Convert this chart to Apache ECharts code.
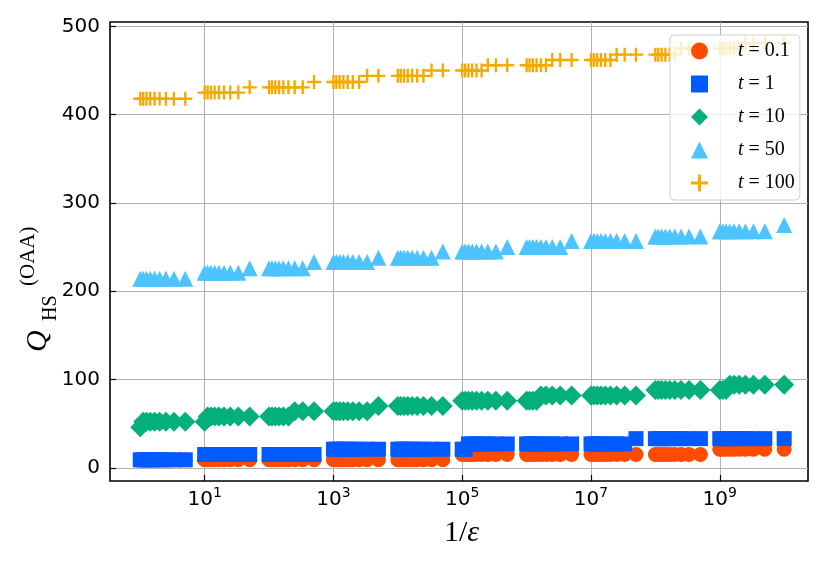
<!DOCTYPE html>
<html>
<head>
<meta charset="utf-8">
<script src="https://cdn.jsdelivr.net/npm/echarts@6/dist/echarts.min.js"></script>
<style>
  html, body { margin: 0; padding: 0; background: #fff; }
  #main { width: 830px; height: 563px; }
</style>
</head>
<body>
<div id="main"></div>
<script>
// epsilon values, 1/eps goes on the x axis (log)
var eps = [
  1, 0.9, 0.8, 0.7, 0.6, 0.5, 0.4, 0.3, 0.2,
  1e-1, 9e-2, 8e-2, 7e-2, 6e-2, 5e-2, 4e-2, 3e-2, 2e-2,
  1e-2, 9e-3, 8e-3, 7e-3, 6e-3, 5e-3, 4e-3, 3e-3, 2e-3,
  1e-3, 9e-4, 8e-4, 7e-4, 6e-4, 5e-4, 4e-4, 3e-4, 2e-4,
  1e-4, 9e-5, 8e-5, 7e-5, 6e-5, 5e-5, 4e-5, 3e-5, 2e-5,
  1e-5, 9e-6, 8e-6, 7e-6, 6e-6, 5e-6, 4e-6, 3e-6, 2e-6,
  1e-6, 9e-7, 8e-7, 7e-7, 6e-7, 5e-7, 4e-7, 3e-7, 2e-7,
  1e-7, 9e-8, 8e-8, 7e-8, 6e-8, 5e-8, 4e-8, 3e-8, 2e-8,
  1e-8, 9e-9, 8e-9, 7e-9, 6e-9, 5e-9, 4e-9, 3e-9, 2e-9,
  1e-9, 9e-10, 8e-10, 7e-10, 6e-10, 5e-10, 4e-10, 3e-10, 2e-10,
  1e-10
];

var q_t01 = [
  9, 9, 9, 9, 9, 9, 9, 9, 9,
  9, 9, 9, 9, 9, 9, 9, 9, 9,
  9, 9, 9, 9, 9, 9, 9, 9, 9,
  9, 9, 9, 9, 9, 9, 9, 9, 9,
  9, 9, 9, 9, 9, 9, 9, 9, 9,
  15, 15, 15, 15, 15, 15, 15, 15, 15,
  15, 15, 15, 15, 15, 15, 15, 15, 15,
  15, 15, 15, 15, 15, 15, 15, 15, 15,
  15, 15, 15, 15, 15, 15, 15, 15, 15,
  21, 21, 21, 21, 21, 21, 21, 21, 21,
  21
];
var q_t1 = [
  9, 9, 9, 9, 9, 9, 9, 9, 9,
  15, 15, 15, 15, 15, 15, 15, 15, 15,
  15, 15, 15, 15, 15, 15, 15, 15, 15,
  21, 21, 21, 21, 21, 21, 21, 21, 21,
  21, 21, 21, 21, 21, 21, 21, 21, 21,
  21, 21, 27, 27, 27, 27, 27, 27, 27,
  27, 27, 27, 27, 27, 27, 27, 27, 27,
  27, 27, 27, 27, 27, 27, 27, 27, 33,
  33, 33, 33, 33, 33, 33, 33, 33, 33,
  33, 33, 33, 33, 33, 33, 33, 33, 33,
  33
];
var q_t10 = [
  46, 52, 52, 52, 52, 52, 52, 52, 52,
  52, 58, 58, 58, 58, 58, 58, 58, 58,
  58, 58, 58, 58, 58, 58, 64, 64, 64,
  64, 64, 64, 64, 64, 64, 64, 64, 70,
  70, 70, 70, 70, 70, 70, 70, 70, 70,
  76, 76, 76, 76, 76, 76, 76, 76, 76,
  76, 76, 76, 76, 82, 82, 82, 82, 82,
  82, 82, 82, 82, 82, 82, 82, 82, 82,
  88, 88, 88, 88, 88, 88, 88, 88, 88,
  88, 88, 88, 94, 94, 94, 94, 94, 94,
  94
];
var q_t50 = [
  214, 214, 214, 214, 214, 214, 214, 214, 214,
  221, 221, 221, 221, 221, 221, 221, 221, 226,
  226, 226, 226, 226, 226, 226, 226, 226, 233,
  233, 233, 233, 233, 233, 233, 233, 233, 238,
  238, 238, 238, 238, 238, 238, 238, 238, 245,
  245, 245, 245, 245, 245, 245, 245, 245, 250,
  250, 250, 250, 250, 250, 250, 250, 250, 257,
  257, 257, 257, 257, 257, 257, 257, 257, 257,
  262, 262, 262, 262, 262, 262, 262, 262, 262,
  268, 268, 268, 268, 268, 268, 268, 268, 268,
  275
];
var q_t100 = [
  418, 418, 418, 418, 418, 418, 418, 418, 418,
  425, 425, 425, 425, 425, 425, 425, 425, 431,
  431, 431, 431, 431, 431, 431, 431, 431, 437,
  437, 437, 437, 437, 437, 437, 437, 444, 444,
  444, 444, 444, 444, 444, 444, 444, 450, 450,
  450, 450, 450, 450, 450, 450, 456, 456, 456,
  456, 456, 456, 456, 456, 456, 462, 462, 462,
  462, 462, 462, 462, 462, 462, 468, 468, 468,
  468, 468, 468, 468, 468, 468, 475, 475, 475,
  475, 475, 475, 475, 475, 475, 481, 481, 481,
  481
];

var seriesNames = ['t = 0.1', 't = 1', 't = 10', 't = 50', 't = 100'];
var seriesColors = ['#ff4b00', '#005aff', '#03af7a', '#4dc4ff', '#f6aa00'];
var xTickExp = [1, 3, 5, 7, 9];
var yTicks = [0, 100, 200, 300, 400, 500];

var plusPath = 'path://M-1.7,-10L1.7,-10L1.7,-1.7L10,-1.7L10,1.7L1.7,1.7L1.7,10L-1.7,10L-1.7,1.7L-10,1.7L-10,-1.7L-1.7,-1.7Z';
var symbols = ['circle', 'rect', 'diamond', 'triangle', plusPath];
var sizes = [15, 15, 20, 16, 14];

function pairs(vals) {
  var out = [];
  for (var i = 0; i < eps.length; i++) {
    out.push([Math.log10(1 / eps[i]), vals[i]]);
  }
  return out;
}

var allVals = [q_t01, q_t1, q_t10, q_t50, q_t100];
var series = [];
for (var s = 0; s < allVals.length; s++) {
  series.push({
    name: seriesNames[s],
    type: 'scatter',
    data: pairs(allVals[s]),
    symbol: symbols[s],
    symbolSize: sizes[s],
    itemStyle: { color: seriesColors[s], opacity: 1 },
    emphasis: { disabled: true },
    animation: false
  });
}

var serif = 'Liberation Serif';
var myChart = echarts.init(document.getElementById('main'));
var option = {
  backgroundColor: '#fff',
  animation: false,
  grid: {
    left: 110, right: 22, top: 22, bottom: 82,
    show: true, borderColor: '#000', borderWidth: 1.6, backgroundColor: 'transparent'
  },
  xAxis: {
    type: 'value',
    min: -0.47,
    max: 10.37,
    axisLine: { show: false, onZero: false },
    axisTick: { show: true, inside: true, length: 6, customValues: xTickExp, lineStyle: { color: '#000', width: 1.2 } },
    axisLabel: {
      customValues: xTickExp,
      margin: 5,
      formatter: function (v) { return '{b|10}{s|' + v + '}'; },
      rich: {
        b: { fontFamily: 'DejaVu Sans', fontSize: 20, color: '#000', verticalAlign: 'bottom', lineHeight: 24 },
        s: { fontFamily: 'DejaVu Sans', fontSize: 14, color: '#000', verticalAlign: 'top', lineHeight: 24 }
      }
    },
    splitLine: { show: true, lineStyle: { color: '#b0b0b0', width: 1 } }
  },
  yAxis: {
    type: 'value',
    min: -15,
    max: 505,
    axisLine: { show: false, onZero: false },
    axisTick: { show: true, inside: true, length: 6, customValues: yTicks, lineStyle: { color: '#000', width: 1.2 } },
    axisLabel: {
      customValues: yTicks,
      margin: 10,
      fontFamily: 'DejaVu Sans', fontSize: 20, color: '#000'
    },
    splitLine: { show: true, lineStyle: { color: '#b0b0b0', width: 1 } }
  },
  legend: {
    orient: 'vertical',
    left: 670,
    top: 35,
    padding: [6, 5, 7, 21],
    itemGap: 13,
    itemWidth: 17,
    itemHeight: 17,
    backgroundColor: 'rgba(255,255,255,0.8)',
    borderColor: '#d0d0d0',
    borderWidth: 1,
    borderRadius: 4,
    data: seriesNames.map(function (n, i) { return { name: n, icon: symbols[i] }; }),
    formatter: function (n) { return '{i|t}{n|' + n.slice(1) + '}'; },
    textStyle: {
      padding: [0, 0, 0, 25],
      rich: {
        i: { fontFamily: serif, fontStyle: 'italic', fontSize: 20, lineHeight: 20, color: '#000' },
        n: { fontFamily: serif, fontSize: 20, lineHeight: 20, color: '#000' }
      }
    }
  },
  graphic: [
    {
      type: 'text',
      left: 444,
      top: 518,
      style: {
        text: '{a|1/}{e|ε}',
        rich: {
          a: { fontFamily: serif, fontSize: 30, fill: '#000' },
          e: { fontFamily: serif, fontStyle: 'italic', fontSize: 30, fill: '#000' }
        }
      }
    },
    {
      type: 'group',
      x: 38,
      y: 352,
      rotation: Math.PI / 2,
      children: [
        { type: 'text', x: 0, y: 0, style: { text: 'Q', fontFamily: serif, fontStyle: 'italic', fontSize: 30, fill: '#000', verticalAlign: 'middle' } },
        { type: 'text', x: 31, y: 13, style: { text: 'HS', fontFamily: serif, fontSize: 20, fill: '#000', verticalAlign: 'middle' } },
        { type: 'text', x: 66, y: -10, style: { text: '(OAA)', fontFamily: serif, fontSize: 21, fill: '#000', verticalAlign: 'middle' } }
      ]
    }
  ],
  series: series
};
myChart.setOption(option);
</script>
</body>
</html>
